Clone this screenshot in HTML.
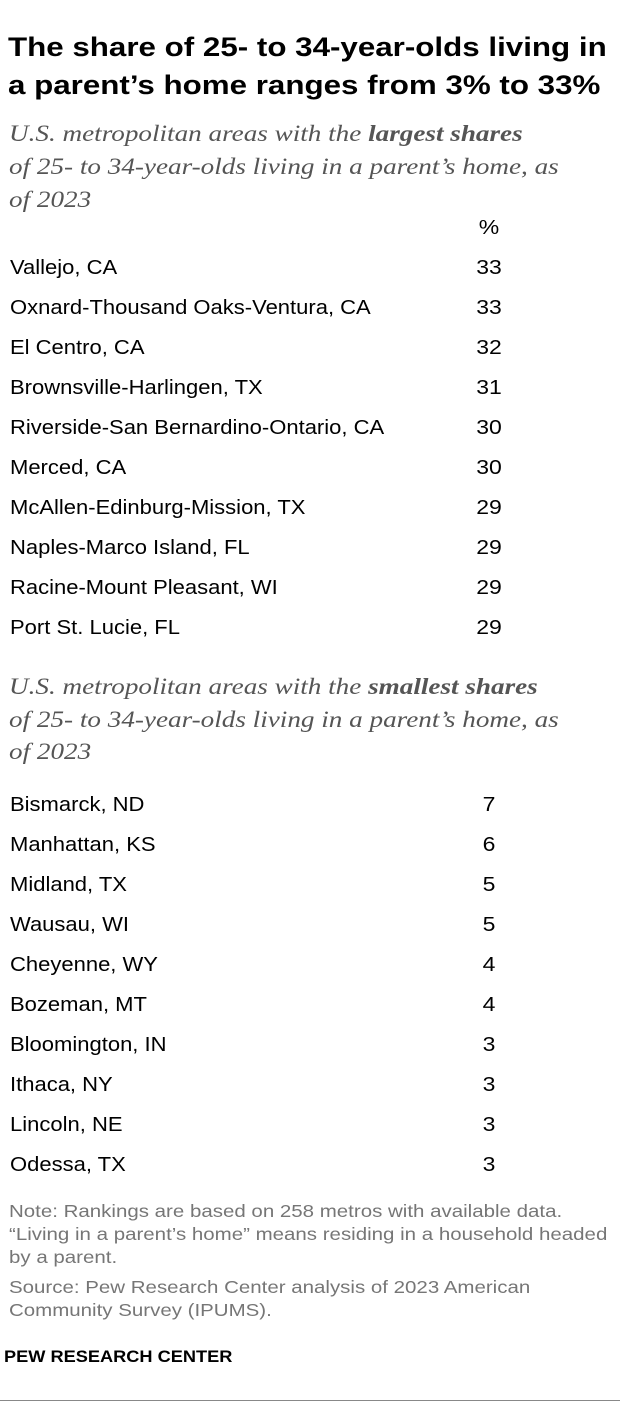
<!DOCTYPE html>
<html><head><meta charset="utf-8"><style>
body{margin:0;width:620px;height:1408px;background:#fff;position:relative;overflow:hidden;font-family:"Liberation Sans",sans-serif;}
.a{position:absolute;white-space:nowrap;transform-origin:0 50%;}
.t{left:8px;font-size:27px;font-weight:bold;color:#000;line-height:38px;transform:scaleX(1.16);}
.s{left:9px;font-family:"Liberation Serif",serif;font-style:italic;font-size:23px;color:#555;line-height:33px;transform:scaleX(1.18);}
.s b{color:#555}
.r{left:10px;font-size:20px;color:#000;line-height:30px;transform:scaleX(1.1);}
.v{left:469px;width:40px;text-align:center;font-size:20px;color:#000;line-height:30px;transform:scaleX(1.15);transform-origin:50% 50%;}
.n{left:9px;font-size:17.5px;color:#767676;line-height:23px;transform:scaleX(1.17);}
</style></head><body>
<div class="a t" style="top:28px">The share of 25- to 34-year-olds living in</div>
<div class="a t" style="top:66px">a parent’s home ranges from 3% to 33%</div>
<div class="a s" style="top:117px">U.S. metropolitan areas with the <b>largest shares</b></div>
<div class="a s" style="top:150px">of 25- to 34-year-olds living in a parent’s home, as</div>
<div class="a s" style="top:183px">of 2023</div>
<div class="a v" style="top:213px">%</div>
<div class="a r" style="top:253px">Vallejo, CA</div><div class="a v" style="top:253px">33</div>
<div class="a r" style="top:293px">Oxnard-Thousand Oaks-Ventura, CA</div><div class="a v" style="top:293px">33</div>
<div class="a r" style="top:333px">El Centro, CA</div><div class="a v" style="top:333px">32</div>
<div class="a r" style="top:373px">Brownsville-Harlingen, TX</div><div class="a v" style="top:373px">31</div>
<div class="a r" style="top:413px">Riverside-San Bernardino-Ontario, CA</div><div class="a v" style="top:413px">30</div>
<div class="a r" style="top:453px">Merced, CA</div><div class="a v" style="top:453px">30</div>
<div class="a r" style="top:493px">McAllen-Edinburg-Mission, TX</div><div class="a v" style="top:493px">29</div>
<div class="a r" style="top:533px">Naples-Marco Island, FL</div><div class="a v" style="top:533px">29</div>
<div class="a r" style="top:573px">Racine-Mount Pleasant, WI</div><div class="a v" style="top:573px">29</div>
<div class="a r" style="top:613px">Port St. Lucie, FL</div><div class="a v" style="top:613px">29</div>
<div class="a s" style="top:670px">U.S. metropolitan areas with the <b>smallest shares</b></div>
<div class="a s" style="top:703px">of 25- to 34-year-olds living in a parent’s home, as</div>
<div class="a s" style="top:735px">of 2023</div>
<div class="a r" style="top:790px">Bismarck, ND</div><div class="a v" style="top:790px">7</div>
<div class="a r" style="top:830px">Manhattan, KS</div><div class="a v" style="top:830px">6</div>
<div class="a r" style="top:870px">Midland, TX</div><div class="a v" style="top:870px">5</div>
<div class="a r" style="top:910px">Wausau, WI</div><div class="a v" style="top:910px">5</div>
<div class="a r" style="top:950px">Cheyenne, WY</div><div class="a v" style="top:950px">4</div>
<div class="a r" style="top:990px">Bozeman, MT</div><div class="a v" style="top:990px">4</div>
<div class="a r" style="top:1030px">Bloomington, IN</div><div class="a v" style="top:1030px">3</div>
<div class="a r" style="top:1070px">Ithaca, NY</div><div class="a v" style="top:1070px">3</div>
<div class="a r" style="top:1110px">Lincoln, NE</div><div class="a v" style="top:1110px">3</div>
<div class="a r" style="top:1150px">Odessa, TX</div><div class="a v" style="top:1150px">3</div>
<div class="a n" style="top:1200px">Note: Rankings are based on 258 metros with available data.</div>
<div class="a n" style="top:1223px">“Living in a parent’s home” means residing in a household headed</div>
<div class="a n" style="top:1246px">by a parent.</div>
<div class="a n" style="top:1276px">Source: Pew Research Center analysis of 2023 American</div>
<div class="a n" style="top:1299px">Community Survey (IPUMS).</div>
<div class="a" style="left:4px;top:1346px;font-size:17px;font-weight:bold;line-height:22px;color:#000;transform:scaleX(1.07)">PEW RESEARCH CENTER</div>
<div class="a" style="left:0;top:1400px;width:620px;height:1px;background:#888"></div>
</body></html>
